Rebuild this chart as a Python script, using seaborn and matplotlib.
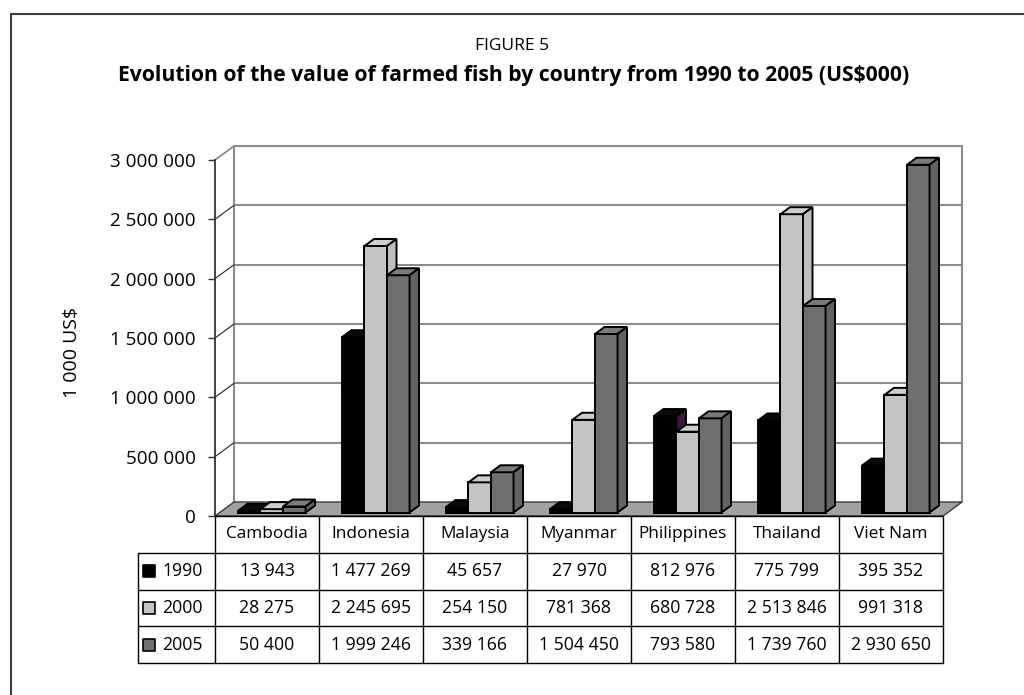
import matplotlib
matplotlib.use("Agg")
import matplotlib.pyplot as plt
from matplotlib.patches import Polygon, Rectangle
from matplotlib.lines import Line2D
import numpy as np
import pandas as pd
import seaborn as sns

# ---- data -------------------------------------------------------------
countries = ["Cambodia", "Indonesia", "Malaysia", "Myanmar",
             "Philippines", "Thailand", "Viet Nam"]
years = ["1990", "2000", "2005"]
v1990 = [13943, 1477269, 45657, 27970, 812976, 775799, 395352]
v2000 = [28275, 2245695, 254150, 781368, 680728, 2513846, 991318]
v2005 = [50400, 1999246, 339166, 1504450, 793580, 1739760, 2930650]
y_ticks = [0, 500000, 1000000, 1500000, 2000000, 2500000, 3000000]

title_top = "FIGURE 5"
title_main = "Evolution of the value of farmed fish by country from 1990 to 2005 (US$000)"
y_label = "1 000 US$"

series = {"1990": v1990, "2000": v2000, "2005": v2005}
df = pd.DataFrame([
    {"country": c, "year": y, "value": v}
    for y, vals in series.items() for c, v in zip(countries, vals)
])

# ---- style ------------------------------------------------------------
front_col = {"1990": "#000000", "2000": "#c4c4c4", "2005": "#6f6f6f"}
top_col = {"1990": "#0a0a0a", "2000": "#cdcdcd", "2005": "#7a7a7a"}
side_col = {"1990": "#3a1838", "2000": "#bdbdbd", "2005": "#626262"}
grid_col = "#8c8c8c"
floor_col = "#a2a2a2"
ink = "#000000"

sns.set_theme(style="white")
plt.rcParams["font.family"] = ["Open Sans", "DejaVu Sans"]

def fmt(v):
    return f"{v:,}".replace(",", " ")

W, H = 1024, 695
fig = plt.figure(figsize=(W / 100, H / 100), dpi=100)
fig.patch.set_facecolor("white")

# front plane of the plot box
ax = fig.add_axes([215 / W, (H - 516) / H, 728 / W, 356 / H])

sns.barplot(data=df, x="country", y="value", hue="year", order=countries,
            hue_order=years, palette=front_col, width=0.65, gap=0,
            edgecolor="black", linewidth=1.4, legend=False, ax=ax,
            saturation=1)
bars = [p for p in ax.patches if isinstance(p, Rectangle)]

n = len(countries)
ax.set_xlim(-0.5, n - 0.5)
ax.set_ylim(0, y_ticks[-1])
ax.set_xlabel("")
ax.set_ylabel("")
ax.set_xticks([])
ax.set_yticks(y_ticks)
ax.set_yticklabels([fmt(t) for t in y_ticks], fontsize=13.6, color=ink)
ax.tick_params(axis="y", direction="out", length=5, width=1, color="#333333",
               pad=9, left=True)
for s in ["top", "right", "bottom"]:
    ax.spines[s].set_visible(False)
ax.spines["left"].set_color("#333333")
ax.spines["left"].set_linewidth(1.3)
ax.spines["left"].set_zorder(6)
ax.patch.set_alpha(0)

# depth of the 3-D box expressed in data units
px_x = ax.bbox.width / n
px_y = ax.bbox.height / y_ticks[-1]
fdx, fdy = 19 / px_x, 14 / px_y
x0, x1 = -0.5, n - 0.5
ytop = y_ticks[-1]

# floor
ax.add_patch(Polygon([(x0, 0), (x1, 0), (x1 + fdx, fdy), (x0 + fdx, fdy)],
                     closed=True, facecolor=floor_col, edgecolor="#3a3a3a",
                     linewidth=1.0, zorder=1, clip_on=False))
# back wall gridlines and side-wall diagonals
for t in y_ticks[1:]:
    ax.add_line(Line2D([x0 + fdx, x1 + fdx], [t + fdy, t + fdy], color=grid_col,
                       linewidth=1.5, zorder=0.5, clip_on=False))
    ax.add_line(Line2D([x0, x0 + fdx], [t, t + fdy],
                       color=grid_col if t == ytop else "#222222",
                       linewidth=1.3 if t == ytop else 0.8,
                       zorder=0.6, clip_on=False))
for xx in (x0 + fdx, x1 + fdx):
    ax.add_line(Line2D([xx, xx], [fdy, ytop + fdy], color=grid_col,
                       linewidth=1.5, zorder=0.5, clip_on=False))

# 3-D bars: shift the seaborn fronts into the box and add top/side faces
bdx, bdy = 0.5 * fdx, 0.5 * fdy
for i, p in enumerate(bars):
    hue = years[i // n]
    cat = i % n
    z = 3 + 0.01 * (cat * 3 + years.index(hue))
    bx = p.get_x() + 0.25 * fdx
    by = 0.25 * fdy
    h = p.get_height()
    w = p.get_width()
    p.set_x(bx)
    p.set_y(by)
    p.set_zorder(z)
    p.set_clip_on(False)
    top = h + by
    ax.add_patch(Polygon([(bx, top), (bx + w, top), (bx + w + bdx, top + bdy),
                          (bx + bdx, top + bdy)], closed=True,
                         facecolor=top_col[hue], edgecolor="black",
                         linewidth=1.4, zorder=z, clip_on=False))
    ax.add_patch(Polygon([(bx + w, by), (bx + w + bdx, by + bdy),
                          (bx + w + bdx, top + bdy), (bx + w, top)], closed=True,
                         facecolor=side_col[hue], edgecolor="black",
                         linewidth=1.4, zorder=z, clip_on=False))

# ---- data table under the plot ----------------------------------------
tr = ax.get_xaxis_transform()
row_px = 36.75
def ry(k):
    return -k * row_px / ax.bbox.height

legend_left = x0 - 77 / px_x
line_kw = dict(color="black", linewidth=1.0, transform=tr, clip_on=False, zorder=5)
# horizontal rules
ax.add_line(Line2D([x0, x1], [ry(0), ry(0)], **line_kw))
for k in range(1, 5):
    ax.add_line(Line2D([legend_left, x1], [ry(k), ry(k)], **line_kw))
# vertical rules
for j in range(n + 1):
    ax.add_line(Line2D([x0 + j, x0 + j], [ry(0), ry(4)], **line_kw))
ax.add_line(Line2D([legend_left, legend_left], [ry(1), ry(4)], **line_kw))

for j, c in enumerate(countries):
    ax.text(j, (ry(0) + ry(1)) / 2, c, transform=tr, ha="center", va="center",
            fontsize=12.4, color=ink)
for k, yr in enumerate(years):
    yc = (ry(k + 1) + ry(k + 2)) / 2
    for j, v in enumerate(series[yr]):
        ax.text(j, yc, fmt(v), transform=tr, ha="center", va="center",
                fontsize=12.7, color=ink)
    ax.scatter([legend_left + 11 / px_x], [yc], marker="s", s=64,
               facecolor=front_col[yr], edgecolor="black", linewidth=1.2,
               transform=tr, clip_on=False, zorder=6)
    ax.text(legend_left + 24 / px_x, yc, yr, transform=tr, ha="left",
            va="center", fontsize=12.7, color=ink)

# ---- titles, axis label and frame -------------------------------------
fig.text(0.5, 1 - 46 / H, title_top, ha="center", va="center", fontsize=12.5,
         color=ink)
fig.text(0.502, 1 - 75 / H, title_main, ha="center", va="center", fontsize=15.2,
         fontweight="bold", color=ink)
fig.text(72 / W, 1 - 353 / H, y_label, ha="center", va="center", rotation=90,
         fontsize=14, color=ink)

fig.add_artist(Line2D([11 / W, 1], [1 - 14 / H, 1 - 14 / H], color="#404040",
                      linewidth=1.5, transform=fig.transFigure))
fig.add_artist(Line2D([11 / W, 11 / W], [0, 1 - 14 / H], color="#404040",
                      linewidth=1.5, transform=fig.transFigure))

fig.savefig("out.png", dpi=100)
